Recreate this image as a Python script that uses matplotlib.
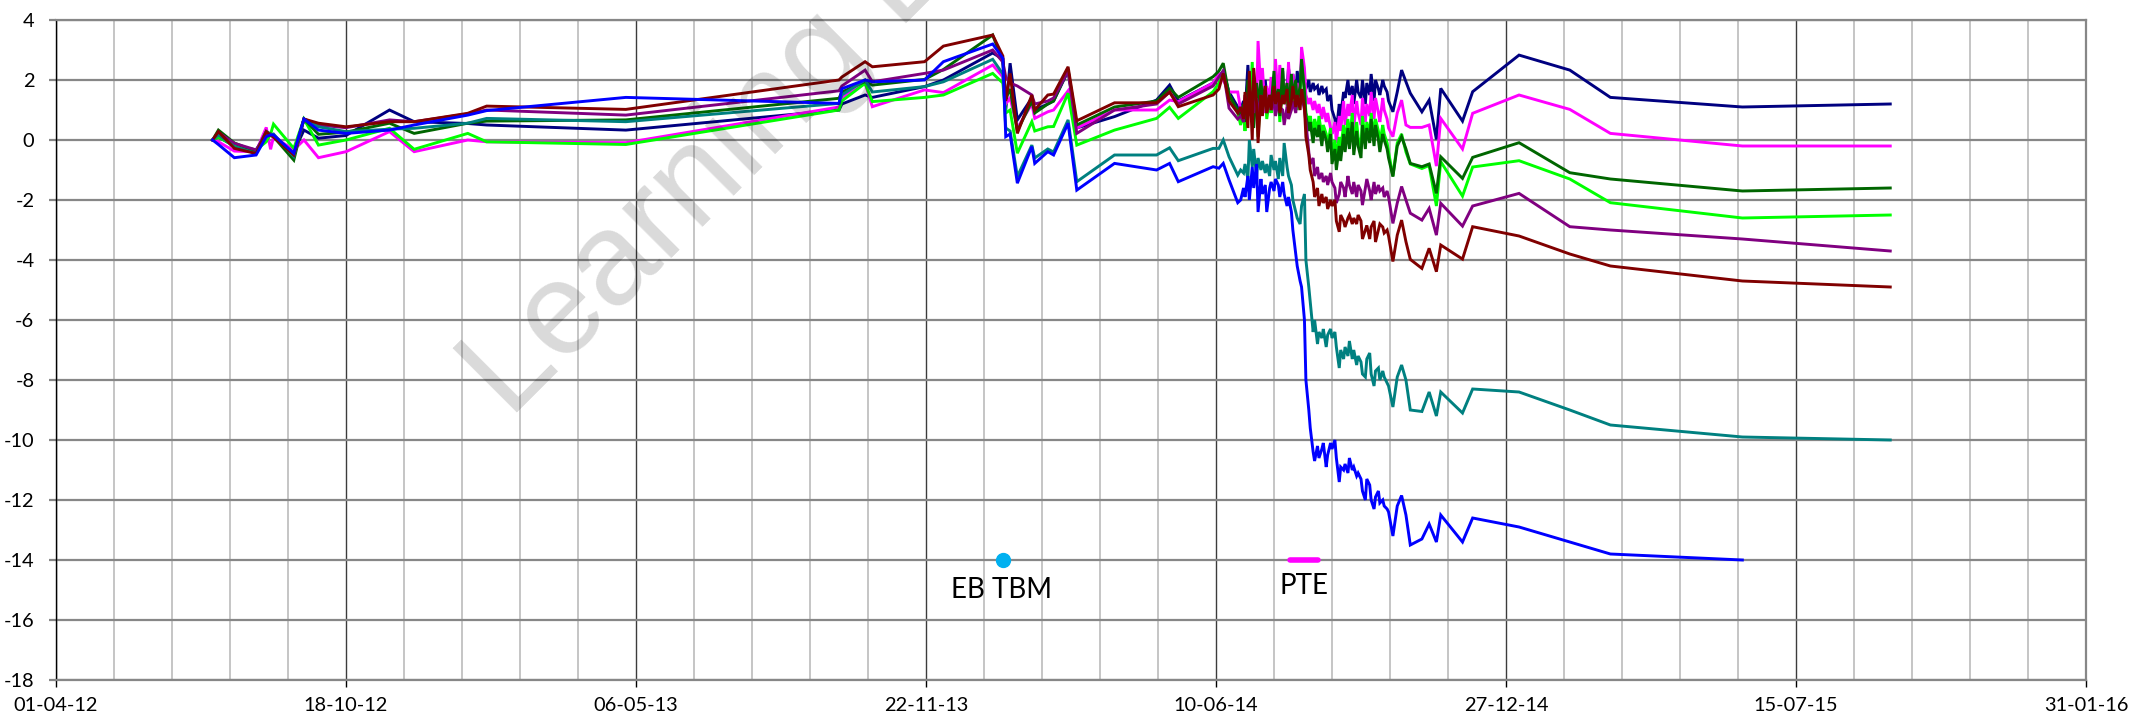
import numpy as np
import pandas as pd
import matplotlib
matplotlib.use("Agg")
import matplotlib.pyplot as plt
from matplotlib.ticker import FixedLocator

plt.rcParams["font.family"] = ["Lato", "DejaVu Sans"]

# ---------------------------------------------------------------- data
START = "2012-04-01"

# reading days, counted from START
days = [
    108, 112, 123, 138, 145, 148, 150, 164, 171, 181,
    200, 230, 247, 284, 297, 393, 540, 542, 558, 563,
    599, 612, 646, 653, 655, 658, 663, 673, 675, 684,
    688, 698, 704, 730, 759, 768, 774, 798, 802, 805,
    809, 815,
    817, 819, 820, 822, 823, 825, 826, 828, 829, 831,
    832, 834, 835, 837, 838, 840, 841, 843, 844, 846,
    847, 849, 850, 852, 853, 855, 856, 858, 859, 861,
    862, 864, 865, 867, 868, 870, 871, 873, 874, 876,
    877, 879, 880, 882, 883, 885, 886, 888, 889, 891,
    892, 894, 895, 897, 898, 900, 901, 903, 904, 906,
    907, 909, 910, 912, 913, 915, 916, 918, 919,
    922, 925, 928, 931, 934, 942, 947, 952, 955, 970,
    977, 1009, 1044, 1072, 1163, 1265,
]

navy = [
    0.0, 0.1, -0.2, -0.33, 0.17, 0.2, 0.1, -0.4, 0.33, 0.06,
    0.15, 1.0, 0.61, 0.55, 0.5, 0.33, 1.0, 1.2, 1.5, 1.42,
    1.78, 2.0, 2.9, 2.7, 1.0, 2.56, 0.67, 1.4, 1.0, 1.2,
    1.3, 2.3, 0.4, 0.78, 1.33, 1.83, 1.3, 1.9, 2.1, 2.3,
    1.6, 1.1,
    1.0, 1.3, 0.8, 2.5, 1.6, 2.3, 1.2, 1.9, 1.0, 1.8,
    1.3, 2.0, 1.4, 1.7, 1.1, 2.0, 1.3, 1.9, 1.5, 2.3,
    1.2, 1.7, 2.4, 1.6, 2.2, 1.4, 2.3, 1.7, 2.6, 1.9,
    1.7, 2.0, 1.6, 1.9, 1.7, 1.8, 1.5, 1.8, 1.6, 1.7,
    1.3, 1.5, 1.0, 0.7, 0.3, 1.2, 0.8, 1.6, 1.4, 2.0,
    1.5, 1.8, 1.2, 2.0, 1.6, 1.4, 2.0, 1.2, 1.9, 1.5,
    2.2, 1.3, 2.0, 1.7, 1.5, 2.0, 1.8, 1.6, 1.3,
    0.94, 1.6, 2.33, 1.94, 1.56, 0.94, 1.33, 0.02, 1.72, 0.63,
    1.61, 2.83, 2.33, 1.42, 1.1, 1.2,
]

magenta = [
    0.0, -0.06, -0.37, -0.39, 0.42, -0.31, 0.1, -0.33, 0.0, -0.59,
    -0.39, 0.28, -0.39, 0.0, -0.06, -0.09, 1.1, 1.4, 1.9, 1.11,
    1.67, 1.58, 2.5, 2.1, 1.2, 1.4, 0.4, 1.2, 0.72, 0.94,
    1.0, 1.64, 0.4, 1.0, 1.0, 1.33, 1.28, 1.9, 2.2, 2.0,
    1.6, 1.6,
    1.0, 0.7, 1.4, 0.8, 1.9, 1.1, 2.0, 1.2, 3.3, 1.6,
    2.4, 0.9, 1.8, 1.3, 2.1, 1.0, 2.7, 1.2, 2.5, 1.4,
    1.9, 1.1, 2.6, 1.0, 2.2, 1.3, 1.9, 1.5, 3.1, 2.4,
    1.5, 1.2, 1.4, 1.0, 1.3, 0.9, 1.2, 0.7, 1.1, 0.6,
    0.9, 0.4, 0.2, 0.6, -0.1, 0.8, 0.3, 1.3, 0.5, 1.2,
    0.8, 1.5, 0.4, 1.3, 0.9, 0.5, 1.4, 0.6, 1.2, 0.8,
    1.6, 0.7, 1.4, 0.9, 0.6, 1.4, 1.0, 0.7, 0.4,
    0.11, 0.9, 1.33, 0.5, 0.42, 0.42, 0.5, -0.87, 0.72, -0.3,
    0.89, 1.5, 1.02, 0.22, -0.2, -0.2,
]

green = [
    0.0, 0.33, -0.1, -0.39, 0.28, 0.2, 0.11, -0.67, 0.7, 0.19,
    0.26, 0.56, 0.22, 0.56, 0.63, 0.67, 1.39, 1.6, 1.95, 1.83,
    2.02, 2.35, 3.5, 2.6, 1.4, 1.7, 0.3, 1.3, 0.9, 1.2,
    1.3, 2.35, 0.5, 1.1, 1.3, 1.72, 1.42, 2.11, 2.3, 2.56,
    1.5, 1.0,
    0.8, 1.2, 0.6, 2.0, 1.0, 1.6, 0.4, 1.9, 1.1, 2.0,
    1.3, 1.8, 0.9, 1.5, 1.1, 2.3, 1.2, 1.7, 0.8, 2.4,
    1.3, 1.9, 1.0, 2.2, 1.4, 2.0, 1.2, 1.8, 2.7, 1.6,
    0.8, 0.3, 0.6, -0.1, 0.4, 0.1, 0.5, -0.2, 0.3, 0.0,
    -0.4, 0.2, -0.8, -0.3, -1.0, -0.2, -0.7, 0.2, -0.4, 0.4,
    -0.3, 0.6, -0.5, 0.3, -0.2, -0.6, 0.5, -0.3, 0.4, -0.1,
    0.7, -0.2, 0.5, 0.0, -0.4, 0.2, 0.0, -0.3, -0.6,
    -1.22, -0.2, 0.11, -0.3, -0.78, -0.89, -0.8, -1.78, -0.56, -1.28,
    -0.58, -0.09, -1.09, -1.3, -1.7, -1.6,
]

lime = [
    0.0, 0.1, -0.2, -0.33, -0.06, 0.2, 0.53, -0.28, 0.7, -0.17,
    0.0, 0.39, -0.31, 0.22, -0.06, -0.15, 1.0, 1.3, 1.89, 1.28,
    1.42, 1.5, 2.22, 1.9, 0.9, 1.0, -0.44, 0.61, 0.3, 0.44,
    0.45, 1.56, -0.17, 0.33, 0.72, 1.09, 0.72, 1.61, 1.9, 2.3,
    1.5, 0.9,
    0.5, 0.9, 0.3, 1.7, 0.8, 2.6, 1.0, 1.5, 0.1, 1.8,
    1.0, 1.6, 0.7, 1.4, 0.9, 2.0, 1.1, 1.5, 0.6, 1.9,
    1.2, 1.6, 0.8, 2.0, 1.2, 1.7, 1.0, 1.6, 2.5, 1.7,
    0.9, 0.6, 0.8, 0.2, 0.7, 0.3, 0.8, 0.1, 0.5, 0.2,
    -0.2, 0.4, -0.5, 0.0, -0.6, 0.1, -0.3, 0.5, -0.1, 0.7,
    0.0, 0.9, -0.2, 0.6, 0.1, -0.3, 0.8, 0.0, 0.6, 0.2,
    0.9, 0.1, 0.7, 0.3, -0.1, 0.5, 0.2, -0.1, -0.4,
    -1.2, -0.1, 0.2, -0.4, -0.8, -0.95, -0.85, -2.2, -0.72, -1.87,
    -0.9, -0.69, -1.3, -2.09, -2.6, -2.5,
]

purple = [
    0.0, 0.25, -0.11, -0.33, 0.22, 0.2, 0.15, -0.5, 0.7, 0.5,
    0.41, 0.67, 0.61, 0.87, 1.0, 0.83, 1.64, 1.8, 2.33, 1.94,
    2.22, 2.33, 3.0, 2.6, 2.1, 1.9, 1.8, 1.5, 1.2, 1.3,
    1.4, 2.3, 0.22, 1.0, 1.2, 1.6, 1.2, 1.8, 2.1, 2.3,
    1.06, 0.7,
    0.8, 0.6, 1.5, 1.0, 1.3, 1.6, 0.9, 1.4, 0.7, 1.5,
    1.1, 1.3, 0.9, 1.4, 1.0, 1.3, 0.8, 1.3, 1.1, 1.0,
    0.5, 1.1, 0.7, 1.0, 1.3, 0.9, 1.4, 1.2, 1.5, 1.0,
    0.6, -0.4, -0.8, -0.6, -1.2, -0.9, -1.3, -1.1, -1.4, -1.2,
    -1.5, -1.1, -1.4, -1.6, -2.1, -1.8, -1.4, -1.6, -1.9, -1.2,
    -1.5, -1.8, -1.4, -1.9, -1.5, -1.7, -2.17, -1.6, -1.3, -1.7,
    -2.0, -1.4, -1.8, -1.5, -1.7, -1.6, -1.9, -1.7, -1.9,
    -2.78, -2.1, -1.55, -2.0, -2.44, -2.67, -2.28, -3.17, -2.11, -2.87,
    -2.2, -1.78, -2.89, -3.0, -3.3, -3.7,
]

maroon = [
    0.0, 0.28, -0.28, -0.45, 0.28, 0.15, 0.1, -0.5, 0.7, 0.56,
    0.44, 0.61, 0.61, 0.89, 1.13, 1.02, 2.0, 2.1, 2.61, 2.44,
    2.61, 3.13, 3.5, 2.8, 1.3, 2.22, 0.22, 1.5, 1.0, 1.5,
    1.53, 2.44, 0.64, 1.24, 1.24, 1.6, 1.11, 1.5, 1.7, 2.22,
    1.3, 0.9,
    1.1, 0.7, 1.6, 0.4, 2.3, 0.0, 2.4, 1.2, -0.1, 1.5,
    0.8, 1.8, 0.9, 1.5, 1.0, 1.8, 1.2, 1.6, 0.9, 1.5,
    1.2, 1.7, 0.9, 1.3, 1.8, 1.1, 1.5, 1.0, 1.7, 1.1,
    0.1, -0.5, -1.0, -1.4, -1.9, -1.6, -2.2, -1.8, -2.1, -1.9,
    -2.3, -2.0, -2.2, -2.0, -2.7, -3.06, -2.5, -2.7, -2.9, -2.6,
    -2.5, -2.8, -2.6, -2.8, -2.5, -2.7, -3.3, -3.0, -2.85, -3.3,
    -2.9, -2.7, -3.4, -3.0, -2.8, -2.9, -3.1, -3.0, -3.2,
    -4.05, -3.17, -2.67, -3.39, -3.98, -4.28, -3.61, -4.39, -3.5, -3.97,
    -2.89, -3.2, -3.8, -4.2, -4.7, -4.9,
]

teal = [
    0.0, 0.17, -0.22, -0.45, 0.28, 0.17, 0.2, -0.55, 0.7, 0.44,
    0.28, 0.36, 0.39, 0.56, 0.72, 0.61, 1.22, 1.5, 2.0, 1.6,
    1.78, 1.94, 2.69, 2.2, 0.4, 0.3, -1.22, -0.17, -0.6, -0.3,
    -0.4, 0.67, -1.39, -0.5, -0.5, -0.26, -0.69, -0.28, -0.28, 0.0,
    -0.56, -1.17,
    -1.0, -1.1, -0.8, -1.3, 0.0, -0.9, -0.3, -1.2, -0.6, -1.0,
    -0.7, -1.1, -0.8, -1.2, -0.5, -1.0, -0.7, -1.3, -0.6, -1.2,
    -0.1, -0.9, -1.2, -1.5, -2.0, -2.4, -2.6, -2.8, -2.2, -1.8,
    -4.0, -4.9, -5.4, -6.4, -6.0, -6.8, -6.4, -6.6, -6.3, -6.9,
    -6.5, -6.3, -6.6, -6.4, -6.9, -7.6, -7.0, -7.3, -6.9, -7.2,
    -6.7, -7.3, -7.0, -7.5, -7.2, -7.4, -7.8, -7.9, -7.3, -7.1,
    -7.8, -8.2, -7.7, -7.6, -8.0, -7.7, -7.9, -8.1, -8.2,
    -8.9, -7.9, -7.5, -8.0, -9.0, -9.05, -8.4, -9.2, -8.4, -9.1,
    -8.3, -8.4, -9.0, -9.5, -9.9, -10.0,
]

blue = [
    0.0, -0.15, -0.59, -0.5, 0.11, 0.17, 0.17, -0.44, 0.7, 0.33,
    0.22, 0.33, 0.5, 0.83, 0.98, 1.42, 1.22, 1.71, 2.0, 1.94,
    2.0, 2.61, 3.2, 2.72, 0.11, 0.2, -1.44, -0.22, -0.78, -0.39,
    -0.5, 0.56, -1.67, -0.78, -1.0, -0.78, -1.39, -0.89, -0.94, -0.78,
    -1.33, -2.09,
    -2.0, -1.6, -1.9, -1.2, -2.0, -0.9, -1.6, -0.8, -2.4, -1.3,
    -1.8, -1.5, -2.4, -1.6, -1.4, -1.7, -1.3, -1.5, -1.9, -1.4,
    -1.8, -2.2, -1.9, -2.4, -3.0, -3.8, -4.2, -4.7, -4.9, -6.0,
    -8.0, -9.0, -9.6, -10.4, -10.7, -10.2, -10.6, -10.3, -10.1, -10.9,
    -10.5, -10.1, -10.3, -10.0, -10.6, -11.4, -10.9, -11.0, -10.8, -11.1,
    -10.6, -11.0, -10.9, -11.2, -11.1, -11.3, -11.7, -12.0, -11.3, -11.5,
    -12.0, -12.3, -11.9, -11.7, -12.1, -12.0, -12.2, -12.3, -12.4,
    -13.2, -12.2, -11.85, -12.5, -13.5, -13.3, -12.8, -13.4, -12.5, -13.4,
    -12.6, -12.9, -13.4, -13.8, -14.0, np.nan,
]

# event markers
eb_tbm_day = 653
pte_days = [851, 870]
event_level = -14

x_tick_dates = ["2012-04-01", "2012-10-18", "2013-05-06", "2013-11-22",
                "2014-06-10", "2014-12-27", "2015-07-15", "2016-01-31"]
x_tick_labels = ["01-04-12", "18-10-12", "06-05-13", "22-11-13",
                 "10-06-14", "27-12-14", "15-07-15", "31-01-16"]
y_ticks = [-18, -16, -14, -12, -10, -8, -6, -4, -2, 0, 2, 4]
y_tick_labels = [str(v) for v in y_ticks]

# ---------------------------------------------------------------- figure
start = pd.Timestamp(START)
dates = start + pd.to_timedelta(days, unit="D")

fig = plt.figure(figsize=(21.55, 7.23), dpi=100)
ax = fig.add_axes([56 / 2155, 43 / 723, 2030 / 2155, 660 / 723])

series = [
    (navy, "#000080"),
    (magenta, "#ff00ff"),
    (lime, "#00ff00"),
    (green, "#006600"),
    (purple, "#800080"),
    (teal, "#008080"),
    (maroon, "#800000"),
    (blue, "#0000ff"),
]
for values, color in series:
    ax.plot(dates, values, color=color, lw=2.1, solid_joinstyle="miter", zorder=3)

# event markers and their captions
ax.plot([start + pd.Timedelta(days=eb_tbm_day)], [event_level], "o",
        color="#00b0f0", ms=10, zorder=4)
ax.plot([start + pd.Timedelta(days=d) for d in pte_days], [event_level] * 2,
        color="#ff00ff", lw=4, solid_capstyle="round", zorder=4)
ax.text(start + pd.Timedelta(days=eb_tbm_day - 1), -15.0, "EB TBM",
        ha="center", va="center", fontsize=20, color="black")
ax.text(start + pd.Timedelta(days=861), -14.85, "PTE",
        ha="center", va="center", fontsize=20, color="black")

# axes ranges and ticks
ax.set_xlim(start, pd.Timestamp("2016-01-31"))
ax.set_ylim(-18, 4)
major_x = pd.to_datetime(x_tick_dates)
minor_x = pd.date_range(START, "2016-01-31", freq="40D")
ax.xaxis.set_major_locator(FixedLocator(matplotlib.dates.date2num(major_x)))
ax.xaxis.set_minor_locator(FixedLocator(matplotlib.dates.date2num(minor_x)))
ax.set_xticklabels(x_tick_labels)
ax.set_yticks(y_ticks)
ax.set_yticklabels(y_tick_labels)

ax.grid(which="major", axis="x", color="#3c3c3c", lw=1.0, zorder=1)
ax.grid(which="minor", axis="x", color="#c0c0c0", lw=1.3, zorder=1)
ax.grid(which="major", axis="y", color="#878787", lw=1.6, zorder=1)
ax.set_axisbelow(True)

ax.tick_params(axis="x", which="major", direction="out", length=5, width=1,
               color="black", labelsize=14.4, pad=7, labelcolor="black")
ax.tick_params(axis="x", which="minor", length=0)
ax.tick_params(axis="y", direction="out", length=5, width=1.6,
               color="#878787", labelsize=14.4, pad=10.5, labelcolor="black")

ax.spines["left"].set_color("black")
ax.spines["left"].set_linewidth(1.0)
for side in ("bottom", "top", "right"):
    ax.spines[side].set_color("#878787")
    ax.spines[side].set_linewidth(1.6)

# faint diagonal watermark
fig.text(510 / 2155, 1 - 420 / 723, "Learning L", rotation=45,
         rotation_mode="anchor", ha="left", va="baseline", fontsize=95,
         family=["Liberation Sans", "DejaVu Sans"], color="black", alpha=0.15,
         zorder=10)

fig.savefig("out.png", dpi=100)
